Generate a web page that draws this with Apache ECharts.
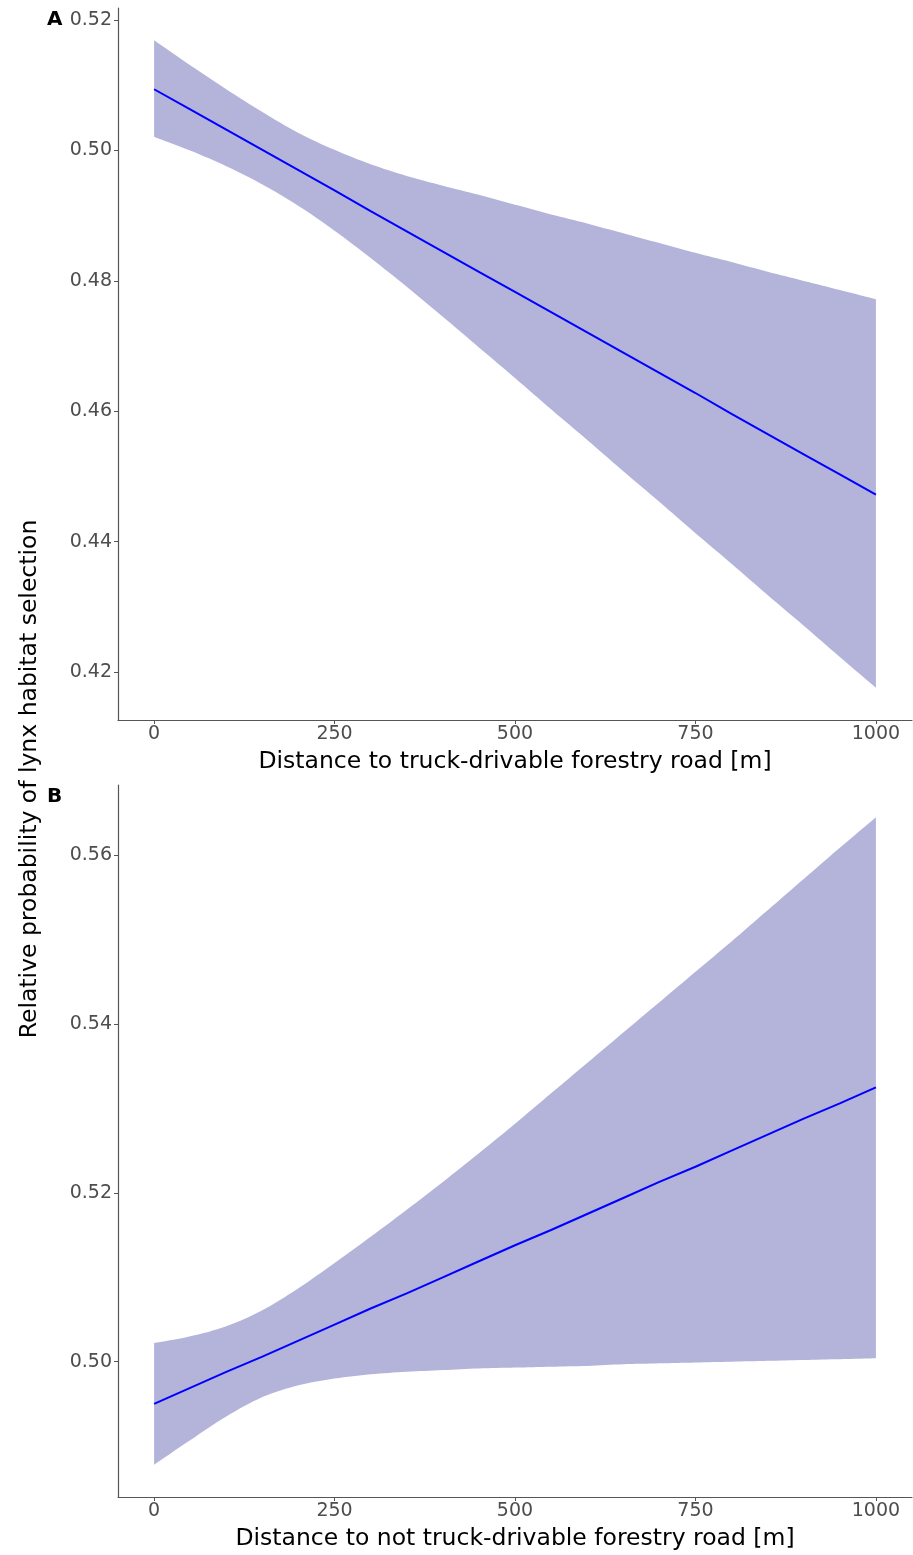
<!DOCTYPE html>
<html>
<head>
<meta charset="utf-8">
<title>Lynx habitat selection vs distance to forestry roads</title>
<script src="https://cdn.jsdelivr.net/npm/echarts@6/dist/echarts.min.js"></script>
<style>
  html, body { margin: 0; padding: 0; background: #fff; }
  #chart { width: 913px; height: 1555px; }
</style>
</head>
<body>
<div id="chart"></div>
<script>
// distance to road [m]
const distance = [0, 50, 100, 150, 200, 250, 300, 350, 400, 450, 500,
  550, 600, 650, 700, 750, 800, 850, 900, 950, 1000]

// panel A: truck-drivable forestry road
const fitA = [0.5094, 0.5063, 0.5032, 0.5001, 0.4970, 0.4939, 0.4907, 0.4876, 0.4845, 0.4814, 0.4783,
  0.4752, 0.4721, 0.4690, 0.4659, 0.4628, 0.4596, 0.4565, 0.4534, 0.4503, 0.4472]
const upperA = [0.5169, 0.5131, 0.5094, 0.5059, 0.5027, 0.5001, 0.4979, 0.4961, 0.4946, 0.4932, 0.4917,
  0.4902, 0.4888, 0.4873, 0.4858, 0.4843, 0.4829, 0.4814, 0.4800, 0.4786, 0.4772]
const lowerA = [0.5021, 0.5000, 0.4976, 0.4948, 0.4915, 0.4877, 0.4835, 0.4791, 0.4745, 0.4698, 0.4651,
  0.4603, 0.4556, 0.4508, 0.4461, 0.4413, 0.4366, 0.4318, 0.4271, 0.4223, 0.4176]

// panel B: not truck-drivable forestry road
const fitB = [0.4950, 0.4969, 0.4988, 0.5006, 0.5025, 0.5044, 0.5063, 0.5081, 0.5100, 0.5119, 0.5138,
  0.5156, 0.5175, 0.5194, 0.5213, 0.5231, 0.5250, 0.5269, 0.5288, 0.5306, 0.5325]
const upperB = [0.5022, 0.5030, 0.5042, 0.5061, 0.5087, 0.5117, 0.5148, 0.5180, 0.5213, 0.5247, 0.5282,
  0.5318, 0.5354, 0.5390, 0.5426, 0.5462, 0.5498, 0.5535, 0.5572, 0.5609, 0.5645]
const lowerB = [0.4878, 0.4907, 0.4935, 0.4958, 0.4972, 0.4980, 0.4985, 0.4988, 0.4990, 0.4992, 0.4993,
  0.4994, 0.4995, 0.4997, 0.4998, 0.4999, 0.5000, 0.5001, 0.5002, 0.5003, 0.5004]

const xTicks = [0, 250, 500, 750, 1000]
const yTicksA = [0.42, 0.44, 0.46, 0.48, 0.50, 0.52]
const yTicksB = [0.50, 0.52, 0.54, 0.56]

const xTitleA = 'Distance to truck-drivable forestry road [m]'
const xTitleB = 'Distance to not truck-drivable forestry road [m]'
const yTitle = 'Relative probability of lynx habitat selection'

const FONT = 'DejaVu Sans'
const ribbon = '#B4B4DB'

// ggplot-like 5% expansion of the data range
function expand(lo, hi) {
  const pad = (hi - lo) * 0.05
  return [lo - pad, hi + pad]
}
const rangeA = expand(Math.min(...lowerA), Math.max(...upperA))
const rangeB = expand(Math.min(...lowerB), Math.max(...upperB))

function xAxis(idx, title) {
  return {
    type: 'value',
    gridIndex: idx,
    min: -50,
    max: 1050,
    name: title,
    nameLocation: 'middle',
    nameGap: 30,
    nameTextStyle: { fontFamily: FONT, fontSize: 23.5, color: '#000' },
    splitLine: { show: false },
    axisLine: { onZero: false, lineStyle: { color: '#555', width: 1.2 } },
    axisTick: { customValues: xTicks, length: 4, lineStyle: { color: '#555' } },
    axisLabel: {
      customValues: xTicks,
      margin: 5,
      fontFamily: FONT,
      fontSize: 19,
      color: '#4D4D4D',
      formatter: v => String(v)
    }
  }
}

function yAxis(idx, range, ticks) {
  return {
    type: 'value',
    gridIndex: idx,
    min: range[0],
    max: range[1],
    splitLine: { show: false },
    axisLine: { show: true, onZero: false, lineStyle: { color: '#555', width: 1.2 } },
    axisTick: { show: true, customValues: ticks, length: 4, lineStyle: { color: '#555' } },
    axisLabel: {
      customValues: ticks,
      margin: 6,
      fontFamily: FONT,
      fontSize: 19,
      color: '#4D4D4D',
      formatter: v => v.toFixed(2)
    }
  }
}

function pairs(ys) {
  return distance.map((d, i) => [d, ys[i]])
}

// catmull-rom through pixel points, only to round the drawn edge
function smoothPath(pts, steps) {
  const out = [pts[0]]
  for (let i = 0; i < pts.length - 1; i++) {
    const p0 = pts[Math.max(i - 1, 0)]
    const p1 = pts[i]
    const p2 = pts[i + 1]
    const p3 = pts[Math.min(i + 2, pts.length - 1)]
    for (let s = 1; s <= steps; s++) {
      const t = s / steps
      const t2 = t * t
      const t3 = t2 * t
      const f = k => 0.5 * ((2 * p1[k]) + (-p0[k] + p2[k]) * t +
        (2 * p0[k] - 5 * p1[k] + 4 * p2[k] - p3[k]) * t2 +
        (-p0[k] + 3 * p1[k] - 3 * p2[k] + p3[k]) * t3)
      out.push([f(0), f(1)])
    }
  }
  return out
}

// confidence ribbon: one polygon along the upper bound and back along the lower
function bandSeries(idx, lower, upper) {
  return {
    type: 'custom',
    xAxisIndex: idx,
    yAxisIndex: idx,
    data: [[0, 0]],
    silent: true,
    z: 1,
    renderItem: function (params, api) {
      const top = smoothPath(distance.map((d, i) => api.coord([d, upper[i]])), 8)
      const bottom = smoothPath(distance.map((d, i) => api.coord([d, lower[i]])), 8).reverse()
      return {
        type: 'polygon',
        shape: { points: top.concat(bottom) },
        style: { fill: ribbon, stroke: null }
      }
    }
  }
}

function fitSeries(idx, fit) {
  return {
    type: 'line',
    xAxisIndex: idx,
    yAxisIndex: idx,
    data: pairs(fit),
    symbol: 'none',
    z: 3,
    lineStyle: { color: '#0000FF', width: 2 },
    silent: true
  }
}

const chart = echarts.init(document.getElementById('chart'), null, { renderer: 'canvas' })

chart.setOption({
  animation: false,
  backgroundColor: '#fff',
  grid: [
    { left: 118, top: 8, width: 794, height: 712 },
    { left: 118, top: 785, width: 794, height: 712 }
  ],
  xAxis: [xAxis(0, xTitleA), xAxis(1, xTitleB)],
  yAxis: [yAxis(0, rangeA, yTicksA), yAxis(1, rangeB, yTicksB)],
  series: [
    bandSeries(0, lowerA, upperA),
    fitSeries(0, fitA),
    bandSeries(1, lowerB, upperB),
    fitSeries(1, fitB)
  ],
  graphic: [
    {
      type: 'text',
      x: 30,
      y: 779,
      rotation: Math.PI / 2,
      style: {
        text: yTitle,
        fontFamily: FONT,
        fontSize: 23.5,
        fill: '#000',
        align: 'center',
        verticalAlign: 'middle'
      }
    },
    {
      type: 'text',
      left: 47,
      top: 10,
      style: { text: 'A', fontFamily: FONT, fontSize: 20, fontWeight: 'bold', fill: '#000' }
    },
    {
      type: 'text',
      left: 47,
      top: 787,
      style: { text: 'B', fontFamily: FONT, fontSize: 20, fontWeight: 'bold', fill: '#000' }
    }
  ]
})
</script>
</body>
</html>
